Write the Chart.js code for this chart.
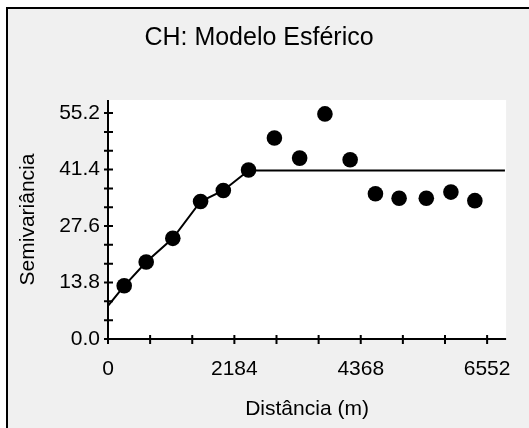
<!DOCTYPE html>
<html>
<head>
<meta charset="utf-8">
<title>CH: Modelo Esférico</title>
<script src="https://cdn.jsdelivr.net/npm/chart.js@4"></script>
<style>
    html, body { margin: 0; padding: 0; background: #fff; overflow: hidden; }
    #frame {
        position: absolute; left: 6px; top: 7px; width: 523px; height: 421px;
        box-sizing: border-box; background: #f0f0f0;
        border-left: 2px solid #000; border-top: 2px solid #000;
    }
    #chart { position: absolute; left: 0; top: 0; }
</style>
</head>
<body>
<div id="frame"></div>
<canvas id="chart" width="529" height="428"></canvas>
<script>
// semivariograma experimental
const distances = [280, 660, 1120, 1600, 1993, 2429, 2876, 3312, 3749, 4185, 4622, 5031, 5501, 5926, 6340];
const semivariances = [13.0, 18.8, 24.6, 33.6, 36.3, 41.3, 49.1, 44.2, 55.0, 43.8, 35.5, 34.4, 34.4, 35.9, 33.8];

// modelo ajustado
const modelDistances = [0, 280, 660, 1120, 1600, 1993, 2429, 6860];
const modelValues = [8.1, 13.0, 18.8, 24.6, 33.6, 36.3, 41.2, 41.2];

const xTickLabels = [0, 2184, 4368, 6552];
const yTickLabels = [0.0, 13.8, 27.6, 41.4, 55.2];

const FONT = "'Liberation Sans', Arial, sans-serif";

// marcas menores: 3 divisoes entre cada rotulo
function withMinorTicks(labels) {
    const out = [];
    for (let i = 0; i < labels.length - 1; i++) {
        for (let k = 0; k < 3; k++) {
            out.push(labels[i] + (labels[i + 1] - labels[i]) * k / 3);
        }
    }
    out.push(labels[labels.length - 1]);
    return out;
}

function findLabel(labels, value) {
    return labels.find(l => Math.abs(l - value) < 1e-6);
}

function toPoints(xs, ys) {
    return xs.map((x, i) => ({x: x, y: ys[i]}));
}

const axesPlugin = {
    id: 'axes',
    beforeDraw(chart) {
        const ctx = chart.ctx;
        const a = chart.chartArea;
        ctx.save();
        ctx.fillStyle = '#fff';
        ctx.fillRect(a.left, a.top, a.right - a.left, a.bottom - a.top);
        ctx.restore();
    },
    beforeDatasetsDraw(chart) {
        const ctx = chart.ctx;
        const a = chart.chartArea;
        const sx = chart.scales.x;
        const sy = chart.scales.y;
        ctx.save();
        ctx.strokeStyle = '#000';
        ctx.lineWidth = 2;
        ctx.beginPath();
        ctx.moveTo(a.left, a.top);
        ctx.lineTo(a.left, a.bottom);
        ctx.lineTo(a.right, a.bottom);
        sx.ticks.forEach(t => {
            const px = sx.getPixelForValue(t.value);
            ctx.moveTo(px, a.bottom - 4);
            ctx.lineTo(px, a.bottom + 5);
        });
        sy.ticks.forEach(t => {
            const py = sy.getPixelForValue(t.value);
            ctx.moveTo(a.left - 4, py);
            ctx.lineTo(a.left + 5, py);
        });
        ctx.stroke();
        ctx.restore();
    }
};

new Chart(document.getElementById('chart'), {
    type: 'scatter',
    data: {
        datasets: [
            {
                label: 'Semivariância',
                data: toPoints(distances, semivariances),
                backgroundColor: '#000',
                borderWidth: 0,
                pointRadius: 7.8,
                pointHoverRadius: 7.8
            },
            {
                label: 'Modelo',
                data: toPoints(modelDistances, modelValues),
                showLine: true,
                borderColor: '#000',
                borderWidth: 2,
                pointRadius: 0,
                tension: 0
            }
        ]
    },
    options: {
        responsive: false,
        animation: false,
        layout: { padding: { left: 0, right: 11, top: 0, bottom: 0 } },
        plugins: {
            legend: { display: false },
            tooltip: { enabled: false },
            title: {
                display: true,
                text: 'CH: Modelo Esférico',
                color: '#000',
                font: { family: FONT, size: 25, weight: 'normal' },
                padding: { top: 23, bottom: 47 }
            }
        },
        scales: {
            x: {
                type: 'linear',
                min: 0,
                max: 6880,
                grid: { display: false, drawTicks: false },
                border: { display: false },
                afterBuildTicks: scale => {
                    scale.ticks = withMinorTicks(xTickLabels).map(v => ({value: v}));
                },
                afterFit: scale => { scale.height = 89; },
                ticks: {
                    autoSkip: false,
                    maxRotation: 0,
                    padding: 18,
                    color: '#000',
                    font: { family: FONT, size: 21 },
                    callback: value => {
                        const l = findLabel(xTickLabels, value);
                        return l === undefined ? '' : String(l);
                    }
                },
                title: {
                    display: true,
                    text: 'Distância (m)',
                    color: '#000',
                    font: { family: FONT, size: 21 },
                    padding: { top: 0, bottom: 6 }
                }
            },
            y: {
                type: 'linear',
                min: 0,
                max: 58.4,
                grid: { display: false, drawTicks: false },
                border: { display: false },
                afterBuildTicks: scale => {
                    scale.ticks = withMinorTicks(yTickLabels).map(v => ({value: v}));
                },
                afterFit: scale => { scale.width = 108; },
                ticks: {
                    autoSkip: false,
                    padding: 8,
                    color: '#000',
                    font: { family: FONT, size: 21 },
                    callback: value => {
                        const l = findLabel(yTickLabels, value);
                        return l === undefined ? '' : l.toFixed(1);
                    }
                },
                title: {
                    display: true,
                    text: 'Semivariância',
                    color: '#000',
                    font: { family: FONT, size: 21 },
                    padding: { top: 16, bottom: 0 }
                }
            }
        }
    },
    plugins: [axesPlugin]
});
</script>
</body>
</html>
